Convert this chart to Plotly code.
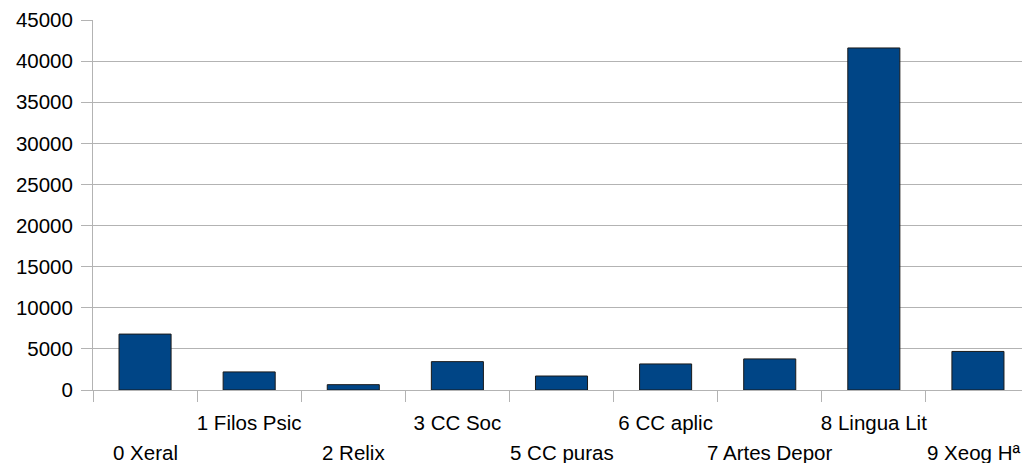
import plotly.graph_objects as go

categories = ["0 Xeral", "1 Filos Psic", "2 Relix", "3 CC Soc", "5 CC puras",
              "6 CC aplic", "7 Artes Depor", "8 Lingua Lit", "9 Xeog Hª"]
values = [6800, 2200, 650, 3450, 1700, 3170, 3780, 41600, 4690]
y_ticks = [0, 5000, 10000, 15000, 20000, 25000, 30000, 35000, 40000, 45000]

# staggered labels: odd positions on the first row (tick labels),
# even positions on the second row (annotations anchored to the category axis)
row1_text = [c if i % 2 == 1 else "" for i, c in enumerate(categories)]
row2_cats = [c for i, c in enumerate(categories) if i % 2 == 0]

grid = "#b3b3b3"
font = dict(family="Liberation Sans, Arial, sans-serif", size=20.5, color="#000000")

fig = go.Figure(go.Bar(
    x=categories, y=values,
    marker=dict(color="#004586", line=dict(color="#1a1a1a", width=1)),
    hoverinfo="x+y",
))
# the page body adds an 8px margin, so the figure is 8px smaller than the window
fig.update_layout(
    width=1022, height=455,
    margin=dict(l=85, r=0, t=12, b=73),
    paper_bgcolor="white", plot_bgcolor="white",
    bargap=0.5, showlegend=False,
    font=font,
)
fig.update_xaxes(
    type="category", tickmode="array", tickvals=categories, ticktext=row1_text,
    tickson="boundaries", ticks="outside", ticklen=11, tickcolor=grid, tickwidth=1,
    showline=True, linecolor=grid, linewidth=1, showgrid=False,
    tickangle=0, automargin=False, ticklabelstandoff=14,
)
fig.update_yaxes(
    range=[0, 45000], tickvals=y_ticks, ticktext=[str(v) for v in y_ticks],
    ticks="outside", ticklen=11, tickcolor=grid, tickwidth=1,
    showgrid=True, gridcolor=grid, gridwidth=1,
    showline=True, linecolor=grid, linewidth=1, zeroline=False,
    automargin=False, ticklabelstandoff=4,
)
for j, c in enumerate(row2_cats):
    last = j == len(row2_cats) - 1
    fig.add_annotation(
        x=c, xref="x", y=0, yref="paper",
        text=c, showarrow=False, yanchor="middle", xanchor="center",
        yshift=-62, xshift=-4 if last else 0, font=font,
    )
fig.write_html("out.html")
